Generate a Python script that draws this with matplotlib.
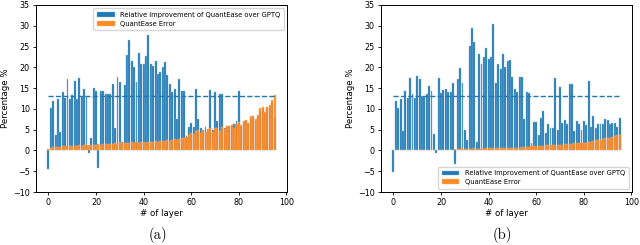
import matplotlib
matplotlib.use("Agg")
import matplotlib.pyplot as plt
import numpy as np

layers = list(range(96))

improve_a = [-4.5, 10.1, 12.0, 3.6, 12.4, 4.5, 14.0, 12.5, 17.1, 12.4,
             13.3, 16.8, 12.3, 17.5, 12.9, 14.7, 13.2, -0.6, 3.0, 15.0,
             14.2, -4.3, 14.3, 14.4, 13.6, 13.6, 13.6, 16.0, 5.3, 17.7,
             16.4, 2.1, 15.8, 22.9, 26.5, 21.5, 20.1, 16.4, 23.5, 20.9,
             20.9, 22.8, 27.7, 20.9, 20.4, 21.5, 18.4, 18.9, 20.0, 21.4,
             18.2, 16.0, 14.1, 14.7, 7.6, 17.2, 14.3, 14.3, 3.5, 5.7,
             6.5, 5.7, 14.7, 7.5, 5.5, 5.0, 5.7, 4.8, 14.5, 5.0,
             14.1, 7.0, 13.6, 13.6, 5.5, 5.8, 6.0, 6.1, 6.3, 7.1,
             14.3, 6.0, 6.8, 7.0, 6.5, 7.8, 8.0, 7.2, 8.3, 9.5,
             10.0, 9.0, 10.0, 10.5, 11.5, 7.7]

error_a = [0.4, 0.7, 0.8, 0.8, 0.9, 0.9, 1.0, 1.0, 1.1, 1.0,
           1.1, 1.1, 1.0, 1.2, 1.1, 1.2, 1.3, 1.2, 1.3, 1.4,
           1.3, 1.6, 1.4, 1.5, 1.5, 1.6, 1.5, 1.6, 1.7, 1.6,
           2.0, 1.8, 1.8, 1.9, 1.8, 2.0, 1.9, 2.0, 1.9, 2.0,
           2.0, 1.9, 2.1, 2.0, 2.1, 2.2, 2.1, 2.2, 2.3, 2.2,
           2.4, 2.3, 2.5, 2.7, 2.6, 2.8, 2.9, 3.1, 3.3, 3.7,
           4.2, 4.0, 4.6, 4.9, 4.2, 5.0, 4.5, 5.1, 5.3, 4.4,
           5.4, 5.5, 4.7, 5.7, 5.1, 5.9, 6.0, 6.2, 5.4, 6.4,
           6.9, 6.2, 7.1, 7.3, 6.6, 8.2, 8.4, 7.5, 8.6, 10.2,
           10.4, 9.2, 10.4, 10.9, 12.1, 13.4]

improve_b = [-5.3, 11.9, 10.1, 12.4, 4.6, 14.4, 12.7, 17.4, 13.5, 12.5,
             17.8, 17.2, 13.0, 12.9, 13.5, 15.4, 14.2, 3.9, -0.5, 17.4,
             13.9, 14.6, 14.9, 14.0, 14.0, 16.3, -3.3, 17.1, 19.8, 16.2,
             4.8, 2.5, 25.1, 29.4, 26.0, 2.1, 23.1, 20.7, 22.4, 24.7,
             22.1, 22.4, 30.5, 16.3, 20.9, 19.6, 23.1, 20.1, 21.5, 21.7,
             17.7, 14.7, 14.1, 17.7, 17.7, 7.5, 14.1, 13.9, 1.7, 6.9,
             6.9, 3.7, 7.9, 9.5, 4.1, 6.3, 5.5, 5.5, 17.5, 4.9,
             15.3, 6.6, 7.3, 6.3, 15.9, 15.9, 4.7, 7.1, 6.3, 4.9,
             7.2, 6.1, 16.7, 5.7, 8.3, 5.5, 6.3, 6.3, 6.3, 7.6,
             7.3, 6.3, 6.6, 6.5, 5.7, 7.7]

error_b = [0.1, 0.1, 0.1, 0.1, 0.1, 0.1, 0.1, 0.1, 0.1, 0.1,
           0.1, 0.1, 0.1, 0.1, 0.1, 0.2, 0.2, 0.2, 0.2, 0.2,
           0.2, 0.2, 0.2, 0.2, 0.2, 0.2, 0.3, 0.4, 0.4, 0.5,
           0.4, 0.3, 0.4, 0.4, 0.5, 0.4, 0.4, 0.4, 0.4, 0.5,
           0.5, 0.5, 0.5, 0.5, 0.5, 0.6, 0.5, 0.6, 0.6, 0.6,
           0.7, 0.6, 0.7, 0.7, 0.8, 0.8, 0.9, 0.9, 1.0, 1.0,
           1.1, 1.0, 1.1, 1.1, 1.2, 1.2, 1.2, 1.3, 1.3, 1.3,
           1.4, 1.4, 1.5, 1.5, 1.6, 1.6, 1.7, 1.7, 1.8, 1.8,
           1.9, 1.9, 2.0, 2.1, 2.2, 2.4, 2.5, 2.6, 2.8, 2.9,
           3.0, 3.1, 3.3, 3.4, 3.6, 3.8]

mean_a = 13.1
mean_b = 13.2

yticks = [-10, -5, 0, 5, 10, 15, 20, 25, 30, 35]
xticks = [0, 20, 40, 60, 80, 100]
label_blue = "Relative Improvement of QuantEase over GPTQ"
label_orange = "QuantEase Error"
captions = ["(a)", "(b)"]

fig = plt.figure(figsize=(6.4, 2.45), dpi=100)
axa = fig.add_axes([36/640, 53/245, 251/640, 187/245])
axb = fig.add_axes([381/640, 53/245, 251/640, 187/245])

panels = [(axa, improve_a, error_a, mean_a, "upper right"),
          (axb, improve_b, error_b, mean_b, "lower right")]

for ax, imp, err, mean, loc in panels:
    ax.bar(layers, imp, width=0.8, color="#1f77b4", edgecolor="#8dbbe0",
           linewidth=0.3, label=label_blue)
    ax.bar(layers, err, width=0.85, color="#ff7f0e", alpha=0.9,
           edgecolor="#ffb27a", linewidth=0.3, label=label_orange)
    ax.hlines(mean, layers[0], layers[-1], colors="#1f77b4", linestyles="--", linewidth=1.0)
    ax.set_ylim(-10, 35)
    ax.set_yticks(yticks)
    ax.set_xticks(xticks)
    ax.tick_params(labelsize=5.8, length=2.5, width=0.6, pad=2)
    for s in ax.spines.values():
        s.set_linewidth(0.7)
    ax.set_xlabel("# of layer", fontsize=6.2, labelpad=1.5)
    ax.set_ylabel("Percentage %", fontsize=6.2, labelpad=2)
    ax.legend(loc=loc, fontsize=4.9, handlelength=2.6, borderpad=0.5,
              labelspacing=0.4, framealpha=0.8)

fig.text(158/640, 1 - 235/245, captions[0], ha="center", va="center",
         fontsize=10.5, family=["cmr10", "DejaVu Serif"])
fig.text(502/640, 1 - 235/245, captions[1], ha="center", va="center",
         fontsize=10.5, family=["cmr10", "DejaVu Serif"])

fig.savefig("out.png", dpi=100)
